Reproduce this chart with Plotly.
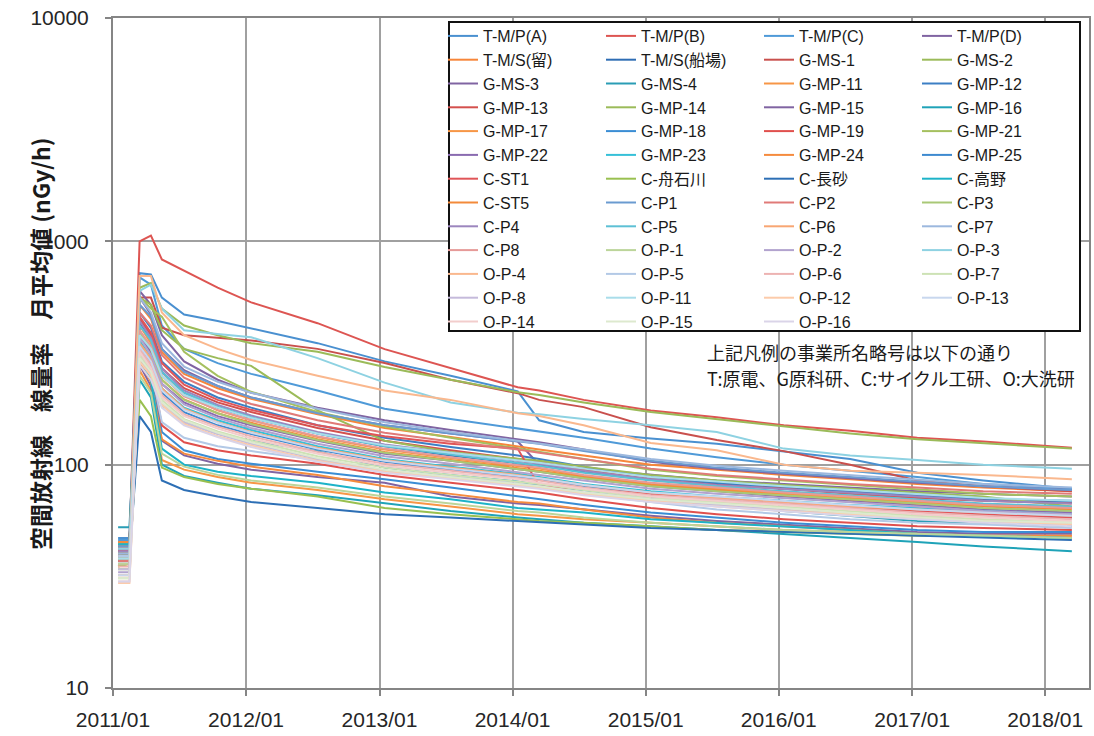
import plotly.graph_objects as go

# ---- dates of the plotted (monthly mean) points ----
dates = ["2011-01-15", "2011-02-15", "2011-03-15", "2011-04-15", "2011-05-15",
         "2011-07-15", "2011-10-15", "2012-01-15", "2012-07-15", "2013-01-15",
         "2013-07-15", "2014-01-15", "2014-03-15", "2014-07-15", "2015-01-15",
         "2015-07-15", "2016-01-15", "2016-07-15", "2017-01-15", "2017-07-15",
         "2018-03-15"]

x_tick_vals = ["2011-01-01", "2012-01-01", "2013-01-01", "2014-01-01",
               "2015-01-01", "2016-01-01", "2017-01-01", "2018-01-01"]
x_tick_text = ["2011/01", "2012/01", "2013/01", "2014/01",
               "2015/01", "2016/01", "2017/01", "2018/01"]
y_tick_vals = [10, 100, 1000, 10000]
y_tick_text = ["10", "100", "1000", "10000"]

# ---- series values (nGy/h) ----
tmp_a   = [47, 47, 720, 710, 560, 470, 440, 408, 350, 290, 250, 213, 158, 140, 131, 124, 115, 106, 92, 85, 78]
tmp_b   = [45, 45, 1000, 1060, 830, 740, 620, 533, 430, 329, 270, 222, 215, 195, 175, 163, 150, 142, 132, 127, 119]
tmp_c   = [46, 46, 690, 640, 420, 330, 285, 255, 215, 178, 160, 145, 140, 132, 118, 108, 100, 94, 88, 82, 78]
tmp_d   = [40, 41, 560, 470, 330, 265, 225, 200, 170, 150, 138, 127, 100, 96, 90, 85, 82, 79, 76, 74, 72]
tms_tome = [43, 43, 520, 450, 320, 255, 220, 197, 168, 146, 133, 120, 117, 110, 100, 95, 90, 86, 82, 79, 76]
tms_senba = [37, 37, 430, 360, 260, 210, 180, 162, 138, 121, 110, 102, 99, 93, 86, 82, 78, 75, 72, 70, 68]
gms_1   = [43, 43, 560, 560, 410, 380, 370, 360, 330, 285, 240, 209, 195, 181, 147, 129, 115, 100, 85, 80, 76]
gms_2   = [41, 41, 620, 650, 500, 420, 380, 350, 320, 274, 240, 211, 205, 190, 172, 160, 148, 138, 130, 125, 118]
gms_3   = [39, 40, 600, 520, 380, 290, 240, 210, 180, 158, 143, 130, 126, 117, 103, 96, 91, 87, 83, 80, 77]
gms_4   = [52.5, 52.5, 380, 320, 185, 155, 138, 128, 115, 97, 90, 84, 81, 77, 71, 66, 62, 59, 56, 55, 53]
gmp_11  = [42, 42, 265, 215, 105, 95, 88, 83, 77, 70, 65, 60, 59, 57, 55, 53, 51, 50, 49, 48, 48]
gmp_12  = [44, 44, 480, 410, 290, 235, 200, 180, 150, 132, 120, 110, 106, 98, 88, 83, 79, 76, 73, 70, 69]
gmp_13  = [41, 41, 450, 380, 270, 220, 190, 172, 146, 128, 116, 106, 103, 95, 86, 81, 78, 74, 71, 69, 67]
gmp_14  = [44, 44, 560, 520, 400, 330, 300, 277, 175, 128, 114, 106, 104, 98, 90, 85, 81, 78, 75, 72, 65]
gmp_15  = [37, 37, 280, 225, 128, 110, 101, 95, 88, 83, 72, 67, 66, 63, 59, 56, 54, 52, 50, 49, 49]
gmp_16  = [40, 40, 240, 200, 100, 89, 83, 78, 73, 67, 62, 58, 57, 55, 53, 51, 49, 47, 45, 43, 41]
gmp_17  = [35, 36, 420, 350, 250, 205, 175, 158, 133, 117, 107, 99, 96, 89, 82, 78, 74, 71, 68, 66, 64]
gmp_18  = [45, 45, 320, 255, 140, 116, 106, 101, 93, 86, 79, 72, 70, 66, 61, 58, 55, 53, 51, 50, 50]
gmp_19  = [41, 41, 350, 280, 150, 126, 116, 110, 101, 90, 83, 77, 75, 70, 64, 60, 57, 55, 53, 52, 51]
gmp_21  = [38, 38, 560, 500, 460, 320, 250, 212, 172, 148, 132, 118, 114, 106, 95, 89, 85, 81, 77, 74, 72]
gmp_22  = [42, 42, 380, 320, 230, 190, 165, 150, 128, 112, 104, 96, 93, 87, 80, 76, 72, 69, 66, 63, 61]
gmp_23  = [40, 40, 360, 300, 220, 180, 158, 143, 121, 106, 98, 91, 88, 82, 76, 72, 69, 66, 64, 62, 60]
gmp_24  = [40, 40, 290, 235, 130, 112, 104, 98, 90, 80, 74, 68, 67, 63, 58, 55, 53, 51, 49, 48, 48]
gmp_25  = [36, 36, 340, 290, 210, 172, 150, 137, 117, 103, 95, 88, 86, 80, 74, 70, 67, 64, 62, 60, 58]
c_st1   = [39, 39, 460, 390, 285, 228, 195, 176, 150, 134, 124, 118, 80, 78, 74, 71, 68, 65, 62, 60, 58]
c_funaishikawa = [35, 36, 195, 165, 97, 88, 82, 78, 72, 64, 60, 57, 56, 55, 53, 51, 50, 49, 48, 48, 47]
c_nagasuna = [38, 38, 165, 140, 85, 77, 72, 68, 64, 60, 58, 56, 55, 54, 52, 51, 50, 49, 48, 47, 46]
c_takano = [44, 44, 300, 240, 118, 100, 93, 89, 83, 75, 70, 64, 63, 61, 57, 55, 53, 51, 49, 48, 47]
c_st5   = [45, 45, 400, 330, 240, 196, 170, 154, 130, 114, 105, 97, 94, 88, 81, 77, 73, 70, 67, 65, 63]
c_p1    = [43, 43, 520, 460, 330, 260, 225, 200, 170, 150, 138, 128, 124, 115, 104, 97, 92, 88, 84, 80, 77]
c_p2    = [37, 37, 480, 420, 310, 245, 210, 187, 158, 139, 127, 117, 113, 106, 96, 90, 86, 82, 79, 76, 74]
c_p3    = [34, 34, 390, 330, 240, 195, 170, 152, 129, 113, 104, 96, 93, 87, 80, 76, 73, 70, 67, 64, 62]
c_p4    = [41, 41, 440, 370, 270, 215, 185, 166, 140, 123, 113, 104, 101, 94, 86, 81, 78, 75, 72, 69, 67]
c_p5    = [38, 38, 420, 360, 260, 210, 182, 163, 138, 121, 111, 102, 99, 92, 85, 80, 76, 73, 70, 67, 65]
c_p6    = [32, 32, 350, 300, 220, 178, 155, 140, 119, 105, 97, 90, 87, 81, 75, 71, 68, 65, 63, 61, 59]
c_p7    = [40, 40, 560, 480, 350, 275, 235, 210, 178, 155, 140, 128, 125, 117, 106, 99, 94, 90, 86, 82, 79]
c_p8    = [36, 36, 400, 340, 250, 202, 176, 158, 134, 118, 108, 100, 97, 90, 83, 79, 75, 72, 69, 66, 64]
op_1    = [36, 36, 250, 210, 112, 98, 90, 85, 79, 72, 67, 62, 61, 58, 55, 53, 51, 50, 49, 48, 47]
op_2    = [33, 33, 370, 310, 230, 186, 162, 146, 124, 109, 101, 93, 90, 85, 78, 74, 71, 68, 65, 62, 60]
op_3    = [42, 42, 600, 640, 500, 400, 385, 372, 300, 233, 190, 171, 168, 160, 150, 140, 118, 110, 105, 100, 96]
op_4    = [38, 38, 700, 700, 480, 380, 330, 294, 250, 215, 195, 170, 165, 150, 125, 116, 100, 94, 92, 90, 86]
op_5    = [39, 39, 330, 270, 155, 132, 121, 115, 105, 94, 88, 82, 79, 74, 68, 63, 60, 57, 55, 54, 52]
op_6    = [35, 35, 330, 280, 205, 168, 148, 134, 114, 101, 94, 87, 85, 79, 73, 70, 67, 64, 61, 59, 57]
op_7    = [31, 31, 310, 265, 195, 160, 141, 128, 109, 97, 90, 84, 82, 77, 71, 68, 65, 62, 59, 57, 55]
op_8    = [34, 34, 300, 255, 188, 155, 137, 124, 106, 94, 88, 82, 80, 75, 70, 66, 63, 60, 58, 56, 54]
op_11   = [38, 38, 380, 330, 250, 205, 180, 162, 138, 122, 113, 105, 102, 96, 88, 84, 80, 77, 74, 71, 69]
op_12   = [29.5, 29.5, 290, 250, 185, 152, 134, 122, 104, 93, 87, 81, 79, 74, 69, 65, 62, 60, 58, 56, 54]
op_13   = [32, 32, 340, 290, 215, 176, 154, 139, 118, 104, 96, 89, 87, 81, 75, 72, 69, 66, 63, 61, 59]
op_14   = [30, 30, 320, 270, 200, 165, 145, 131, 112, 99, 92, 86, 83, 78, 72, 69, 66, 63, 60, 58, 56]
op_15   = [31, 31, 300, 260, 190, 158, 139, 126, 107, 95, 88, 82, 80, 75, 70, 67, 64, 61, 58, 56, 55]
op_16   = [30, 30, 280, 240, 180, 150, 133, 120, 103, 92, 86, 80, 78, 73, 68, 65, 62, 59, 57, 55, 53]

series_names = ["T-M/P(A)", "T-M/P(B)", "T-M/P(C)", "T-M/P(D)", "T-M/S(留)", "T-M/S(船場)",
                "G-MS-1", "G-MS-2", "G-MS-3", "G-MS-4", "G-MP-11", "G-MP-12",
                "G-MP-13", "G-MP-14", "G-MP-15", "G-MP-16", "G-MP-17", "G-MP-18",
                "G-MP-19", "G-MP-21", "G-MP-22", "G-MP-23", "G-MP-24", "G-MP-25",
                "C-ST1", "C-舟石川", "C-長砂", "C-高野", "C-ST5", "C-P1", "C-P2", "C-P3",
                "C-P4", "C-P5", "C-P6", "C-P7", "C-P8", "O-P-1", "O-P-2", "O-P-3",
                "O-P-4", "O-P-5", "O-P-6", "O-P-7", "O-P-8", "O-P-11", "O-P-12",
                "O-P-13", "O-P-14", "O-P-15", "O-P-16"]
series_values = [tmp_a, tmp_b, tmp_c, tmp_d, tms_tome, tms_senba,
                 gms_1, gms_2, gms_3, gms_4, gmp_11, gmp_12,
                 gmp_13, gmp_14, gmp_15, gmp_16, gmp_17, gmp_18,
                 gmp_19, gmp_21, gmp_22, gmp_23, gmp_24, gmp_25,
                 c_st1, c_funaishikawa, c_nagasuna, c_takano, c_st5, c_p1, c_p2, c_p3,
                 c_p4, c_p5, c_p6, c_p7, c_p8, op_1, op_2, op_3,
                 op_4, op_5, op_6, op_7, op_8, op_11, op_12,
                 op_13, op_14, op_15, op_16]
series_colors = ["#4A90D0", "#DD5552", "#4F9AD8", "#8064A2", "#F7863A", "#2E6DB4",
                 "#C9504D", "#9BBB59", "#8064A2", "#2A9DB5", "#F79646", "#3C7FC4",
                 "#D4504D", "#9BBB59", "#8064A2", "#1FA3B8", "#F79646", "#3A8DD4",
                 "#E0504D", "#A5C05F", "#8A6BB0", "#36C0D8", "#F58B3E", "#3D8AD0",
                 "#E05558", "#99C050", "#2D6FB5", "#1DB3C8", "#F38A3A", "#6A9BD0",
                 "#E07A78", "#A9C876", "#9C86BE", "#5DC0D5", "#F8A673", "#9CB8DE",
                 "#E69A98", "#BCD59A", "#B2A3CE", "#8ED2E2", "#FAB88E", "#B3C9E6",
                 "#EDB3B2", "#CDE2B5", "#C5BADB", "#A9DDEA", "#FCCBAA", "#C8D7EE",
                 "#F2CDCC", "#DDE9CE", "#DAD4E8"]

W, H = 1094, 736
L, R, T, B = 113, 5, 18, 48
PW, PH = W - L - R, H - T - B


def px_x(p):
    return (p - L) / PW


def px_y(p):
    return 1 - (p - T) / PH


legend_keys = ["legend", "legend2", "legend3", "legend4"]
fig = go.Figure()
for i, (nm, vals, col) in enumerate(zip(series_names, series_values, series_colors)):
    fig.add_trace(go.Scatter(x=dates, y=vals, mode="lines", name=nm,
                             line=dict(color=col, width=2),
                             legend=legend_keys[i % 4]))

legend_font = dict(family="Liberation Sans, Noto Sans CJK JP, sans-serif", size=16, color="#1a1a1a")
col_text_x = [483, 641, 799, 957]
legend_layout = {}
for k, key in enumerate(legend_keys):
    legend_layout[key] = dict(
        x=px_x(col_text_x[k] - 40), y=px_y(19), xanchor="left", yanchor="top",
        orientation="v", bgcolor="rgba(0,0,0,0)", borderwidth=0,
        font=legend_font, itemwidth=30, traceorder="normal",
        itemclick=False, itemdoubleclick=False)

axis_font = dict(family="Liberation Sans, sans-serif", size=21, color="#262626")
grid_col = "#A0A0A0"

fig.update_layout(
    width=W, height=H,
    margin=dict(l=L, r=R, t=T, b=B, pad=0),
    plot_bgcolor="white", paper_bgcolor="white",
    showlegend=True,
    xaxis=dict(type="date", range=["2011-01-01", "2018-05-01"],
               tickmode="array", tickvals=x_tick_vals, ticktext=x_tick_text,
               showgrid=True, gridcolor=grid_col, gridwidth=1.5,
               showline=True, linecolor="#858585", linewidth=2, mirror=True,
               ticks="outside", ticklen=6, tickcolor="#858585", tickwidth=1.5,
               tickfont=axis_font, ticklabelstandoff=6, zeroline=False, automargin=False),
    yaxis=dict(type="log", range=[1, 4],
               tickmode="array", tickvals=y_tick_vals, ticktext=y_tick_text,
               showgrid=True, gridcolor=grid_col, gridwidth=1.5,
               showline=True, linecolor="#858585", linewidth=2, mirror=True,
               ticks="outside", ticklen=6, tickcolor="#858585", tickwidth=1.5,
               tickfont=axis_font, ticklabelstandoff=12, zeroline=False, automargin=False),
    **legend_layout,
)

# legend frame (white box with black border)
fig.add_shape(type="rect", xref="paper", yref="paper",
              x0=px_x(449), x1=px_x(1080), y0=px_y(331), y1=px_y(22),
              line=dict(color="#111111", width=2), fillcolor="white", layer="above")

note_font = dict(family="Noto Sans CJK JP, sans-serif", size=18, color="#1a1a1a")
fig.add_annotation(xref="paper", yref="paper", x=px_x(705), y=px_y(352),
                   xanchor="left", yanchor="middle", showarrow=False,
                   text="上記凡例の事業所名略号は以下の通り", font=note_font)
fig.add_annotation(xref="paper", yref="paper", x=px_x(705), y=px_y(378),
                   xanchor="left", yanchor="middle", showarrow=False,
                   text="T:原電、G原科研、C:サイクル工研、O:大洗研", font=note_font)

fig.add_annotation(xref="paper", yref="paper", x=px_x(40), y=px_y(344),
                   xanchor="center", yanchor="middle", showarrow=False, textangle=-90,
                   text="<b>空間放射線　線量率　月平均値 (nGy/h)</b>",
                   font=dict(family="Noto Sans CJK JP, sans-serif", size=23, color="#1a1a1a"))

fig.write_html("out.html", post_script="document.body.style.margin='0px';",
               config={"displayModeBar": False})
